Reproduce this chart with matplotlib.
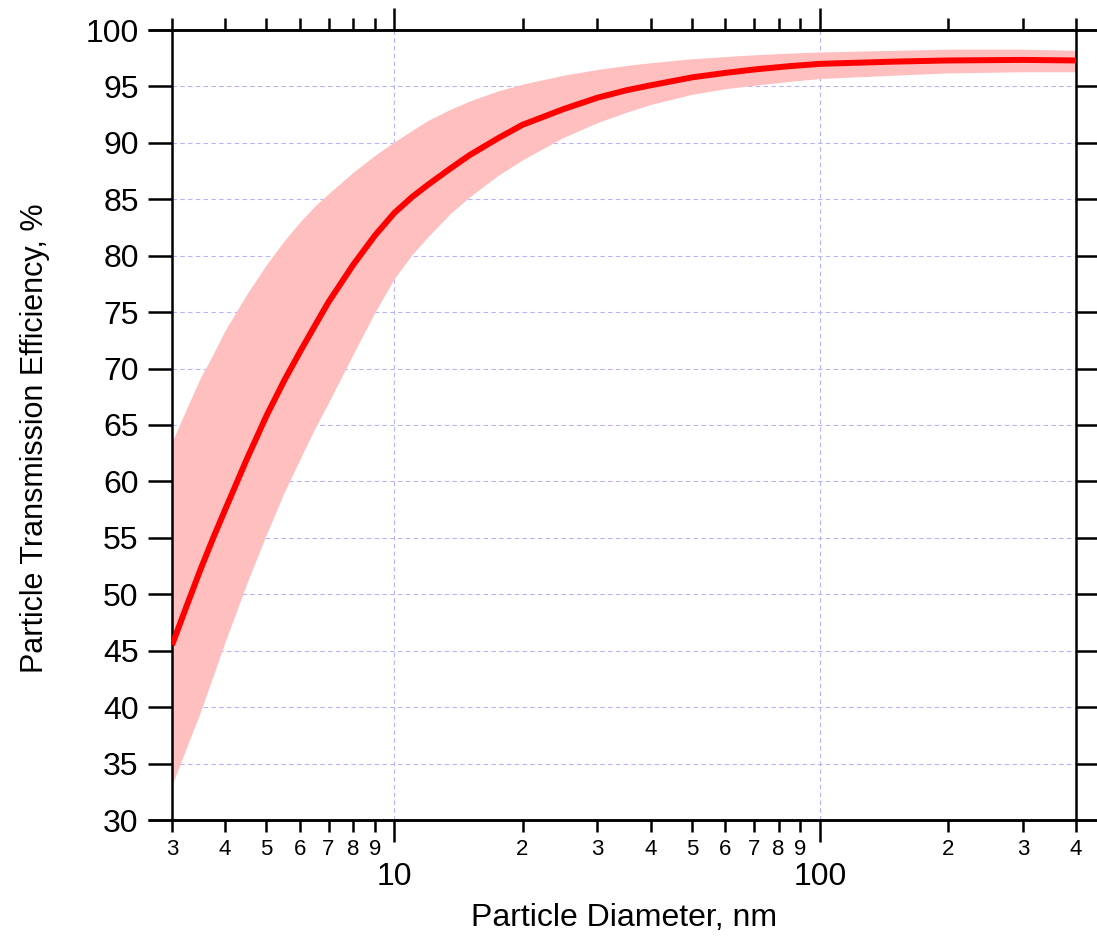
import math
import matplotlib
matplotlib.use("Agg")
import matplotlib.pyplot as plt
from matplotlib.ticker import LogLocator, FuncFormatter, MultipleLocator, NullLocator

# --- data ---
diameter = [3, 3.25, 3.5, 3.75, 4, 4.5, 5, 5.5, 6, 6.5, 7, 8, 9, 10, 11, 12,
            13.5, 15, 17.5, 20, 25, 30, 35, 40, 50, 60, 70, 85, 100, 150, 200,
            300, 400]
eff_mean = [45.5, 49.0, 52.2, 55.0, 57.5, 62.0, 65.8, 68.9, 71.5, 73.8, 75.9,
            79.2, 81.8, 83.8, 85.2, 86.3, 87.7, 88.9, 90.4, 91.6, 93.0, 94.0,
            94.65, 95.1, 95.8, 96.2, 96.5, 96.8, 97.0, 97.2, 97.3, 97.35, 97.3]
eff_upper = [63.5, 66.5, 69.2, 71.3, 73.4, 76.6, 79.2, 81.3, 83.0, 84.4, 85.5,
             87.4, 88.9, 90.1, 91.1, 92.0, 92.95, 93.7, 94.6, 95.2, 96.0, 96.5,
             96.85, 97.1, 97.45, 97.65, 97.8, 97.95, 98.05, 98.2, 98.3, 98.3, 98.2]
eff_lower = [33.1, 36.5, 39.6, 42.8, 45.8, 51.0, 55.3, 59.0, 62.0, 64.7, 67.0,
             71.3, 75.0, 78.0, 80.1, 81.7, 83.7, 85.2, 87.1, 88.5, 90.5, 91.8,
             92.7, 93.4, 94.3, 94.8, 95.1, 95.45, 95.7, 96.0, 96.2, 96.3, 96.3]

X_RANGE = (3, 400)
Y_RANGE = (30, 100)

plt.rcParams["font.family"] = ["Liberation Sans", "DejaVu Sans"]

W, H = 1097, 942
fig = plt.figure(figsize=(W / 100, H / 100), dpi=100)
ax = fig.add_axes([172 / W, 1 - 820 / H, 904 / W, 790 / H])

# band + curve
ax.fill_between(diameter, eff_lower, eff_upper, color="#ffbfbf", lw=0, zorder=1)
ax.plot(diameter, eff_mean, color="#ff0000", lw=4.3, zorder=3,
        solid_capstyle="butt", solid_joinstyle="round")

ax.set_xscale("log")
ax.set_xlim(*X_RANGE)
ax.set_ylim(*Y_RANGE)


def minor_label(v, pos):
    # leading digit only: 20 -> "2", 300 -> "3"
    return f"{v / 10 ** math.floor(math.log10(v) + 1e-9):.0f}"


ax.xaxis.set_major_locator(LogLocator(base=10, subs=(1.0,)))
ax.xaxis.set_minor_locator(LogLocator(base=10, subs=range(2, 10)))
ax.xaxis.set_major_formatter(FuncFormatter(lambda v, p: f"{v:g}"))
ax.xaxis.set_minor_formatter(FuncFormatter(minor_label))
ax.yaxis.set_major_locator(MultipleLocator(5))
ax.yaxis.set_minor_locator(NullLocator())

ax.tick_params(which="both", direction="out", top=True, right=True,
               width=1.8, color="black")
ax.tick_params(axis="y", which="major", length=17, labelsize=23, pad=7)
ax.tick_params(axis="x", which="major", length=16, labelsize=23, pad=14)
ax.tick_params(axis="x", which="minor", length=8.5, labelsize=16, pad=5)

for s in ax.spines.values():
    s.set_linewidth(1.8)

# horizontal spines run past the frame, as in the original
ext = 24 / 904
for yy in (0, 1):
    ax.plot([-ext, 1 + ext], [yy, yy], transform=ax.transAxes, color="black",
            lw=1.8, clip_on=False, zorder=4, solid_capstyle="butt")

ax.grid(True, which="major", color="#b4b4ff", lw=0.8, linestyle=(0, (4, 3)))
ax.set_axisbelow(True)

ax.set_xlabel("Particle Diameter, nm", fontsize=23)
ax.set_ylabel("Particle Transmission Efficiency, %", fontsize=22)
ax.xaxis.set_label_coords(0.5, -(903 - 820) / 790)
ax.yaxis.set_label_coords(-(172 - 50) / 904, (820 - 438) / 790)

fig.savefig("out.png", dpi=100)
